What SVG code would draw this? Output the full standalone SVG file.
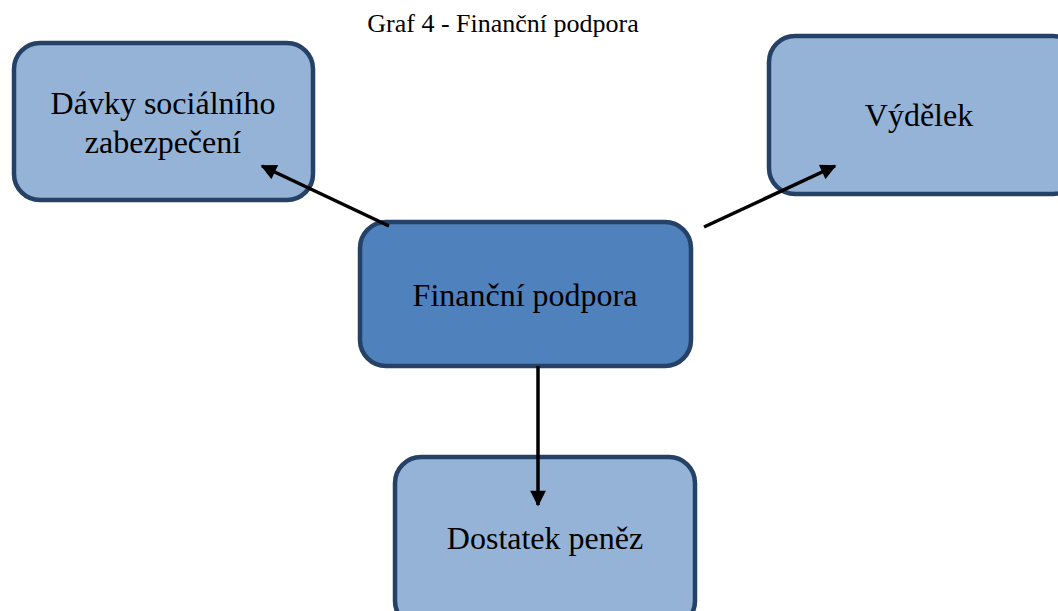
<svg xmlns="http://www.w3.org/2000/svg" width="1058" height="611" viewBox="0 0 1058 611">
  <style>
    .box { stroke: #254166; stroke-width: 4.5; }
    .light { fill: #95b3d7; }
    .dark { fill: #4f81bd; }
    .label { font-family: "Liberation Serif", "Times New Roman", serif; font-size: 32px; fill: #000; text-anchor: middle; }
    .title { font-family: "Liberation Serif", "Times New Roman", serif; font-size: 26px; fill: #000; text-anchor: middle; }
    .conn { stroke: #000; stroke-width: 3.5; fill: none; marker-end: url(#arrow); }
  </style>
  <defs>
    <marker id="arrow" viewBox="0 0 10 10" refX="9" refY="5" markerWidth="5" markerHeight="4.5" orient="auto" markerUnits="strokeWidth">
      <path d="M0,0 L10,5 L0,10 z" fill="#000"/>
    </marker>
  </defs>
  <rect width="1058" height="611" fill="#fff"/>
  <text class="title" x="503" y="32">Graf 4 - Finanční podpora</text>

  <g id="node-davky">
    <rect class="box light" x="14" y="43" width="299" height="157" rx="26"/>
    <text class="label" x="163" y="114">Dávky sociálního</text>
    <text class="label" x="163" y="153">zabezpečení</text>
  </g>
  <g id="node-vydelek">
    <rect class="box light" x="769" y="36" width="310" height="158" rx="26"/>
    <text class="label" x="919" y="126">Výdělek</text>
  </g>
  <g id="node-financni">
    <rect class="box dark" x="360" y="222" width="331" height="144" rx="26"/>
    <text class="label" x="525" y="306">Finanční podpora</text>
  </g>
  <g id="node-dostatek">
    <rect class="box light" x="395" y="457" width="300" height="170" rx="26"/>
    <text class="label" x="545" y="549">Dostatek peněz</text>
  </g>

  <g id="connectors">
    <line class="conn" x1="389" y1="226" x2="262" y2="166"/>
    <line class="conn" x1="704" y1="227" x2="835" y2="166"/>
    <line class="conn" x1="538" y1="366" x2="538" y2="505"/>
  </g>
</svg>
